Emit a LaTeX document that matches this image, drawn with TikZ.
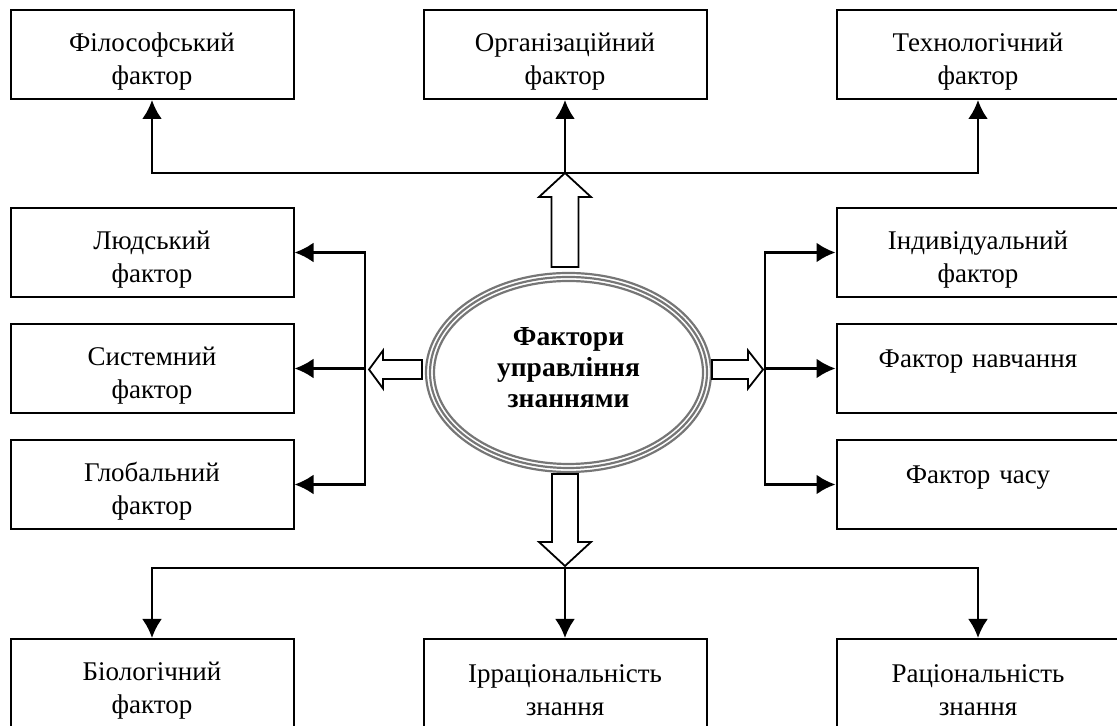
\documentclass[tikz,border=0pt]{standalone}
\usepackage{fontspec}
\setmainfont{Liberation Serif}
\usetikzlibrary{shapes,arrows,arrows.meta,positioning}
\definecolor{ringgray}{RGB}{118,118,118}
\tikzstyle{block} = [rectangle, draw, line width=1pt, text width=136pt,
    align=center, inner xsep=2.75pt, minimum height=44.5pt, text height=16pt,
    font=\fontsize{13.5}{16.5}\selectfont]
\tikzstyle{core} = [ellipse, draw=ringgray, line width=1.1pt, minimum width=142.5pt,
    minimum height=99.5pt, text width=90pt, align=center, text depth=35.5pt,
    font=\bfseries\fontsize{13.75}{15.5}\selectfont]
\tikzstyle{ring} = [draw=ringgray, line width=1.1pt]
\tikzstyle{line} = [draw, line width=1.4pt, -{Latex[length=9.5pt,width=10pt]}]
\tikzstyle{hollow} = [draw, line width=0.9pt, fill=white, line join=miter]

\begin{document}
\begin{tikzpicture}[node distance = 206.5pt, auto]
    \useasboundingbox (0,0) rectangle (558.5pt,363pt);
    % Place nodes
    \node [block] (org) at (282.5pt,335.75pt) {Організаційний\\фактор};
    \node [block, left of=org] (phil) {Філософський\\фактор};
    \node [block, right of=org] (tech) {Технологічний\\фактор};
    \node [block, below of=phil, node distance=99pt] (human) {Людський\\фактор};
    \node [block, below of=human, node distance=58pt] (system) {Системний\\фактор};
    \node [block, below of=system, node distance=58pt] (global) {Глобальний\\фактор};
    \node [block, below of=global, node distance=99.5pt] (bio) {Біологічний\\фактор};
    \node [block, right of=bio] (irrat) {Ірраціональність\\знання};
    \node [block, right of=irrat] (rational) {Раціональність\\знання};
    \node [block, below of=tech, node distance=99pt] (indiv) {Індивідуальний\\фактор};
    \node [block, below of=indiv, node distance=58pt] (learn) {Фактор навчання\\~};
    \node [block, below of=learn, node distance=58pt] (time) {Фактор часу\\~};
    \node [core, below of=org, node distance=159pt, xshift=1.75pt] (core)
        {Фактори\\управління\\знаннями};
    \path [ring] (core.center) ellipse [x radius=69.25pt, y radius=47.75pt];
    \path [ring] (core.center) ellipse [x radius=67.25pt, y radius=45.75pt];
    % Junction points
    \coordinate [below=36.5pt of org] (topj);
    \coordinate [above=35pt of irrat] (botj);
    \coordinate [right=35.25pt of system] (leftj);
    \coordinate [left=35.25pt of learn] (rightj);
    % Draw edges
    \path [line] (topj) -| (phil);
    \path [line] (topj) -- (org);
    \path [line] (topj) -| (tech);
    \path [line] (leftj) |- (human);
    \path [line] (leftj) -- (system);
    \path [line] (leftj) |- (global);
    \path [line] (rightj) |- (indiv);
    \path [line] (rightj) -- (learn);
    \path [line] (rightj) |- (time);
    \path [line] (botj) -| (bio);
    \path [line] (botj) -- (irrat);
    \path [line] (botj) -| (rational);
    % Hollow arrows out of the ellipse
    \draw [hollow, shift={(topj)}, rotate=90] (0,0) -- (-12pt,13pt) -- (-12pt,6.75pt)
        -- (-47pt,6.75pt) -- (-47pt,-6.75pt) -- (-12pt,-6.75pt) -- (-12pt,-13pt) -- cycle;
    \draw [hollow, shift={(botj)}, yshift=1pt, rotate=-90] (0,0) -- (-12pt,13pt) -- (-12pt,6.5pt)
        -- (-46pt,6.5pt) -- (-46pt,-6.5pt) -- (-12pt,-6.5pt) -- (-12pt,-13pt) -- cycle;
    \draw [hollow, shift={(leftj)}, xshift=2pt, yshift=-0.5pt, rotate=180] (0,0) -- (-7pt,9.5pt)
        -- (-7pt,4.75pt) -- (-26.5pt,4.75pt) -- (-26.5pt,-4.75pt) -- (-7pt,-4.75pt) -- (-7pt,-9.5pt) -- cycle;
    \draw [hollow, shift={(rightj)}, xshift=-1pt, yshift=-0.5pt] (0,0) -- (-7.5pt,9.5pt)
        -- (-7.5pt,4.75pt) -- (-25.5pt,4.75pt) -- (-25.5pt,-4.75pt) -- (-7.5pt,-4.75pt) -- (-7.5pt,-9.5pt) -- cycle;
\end{tikzpicture}
\end{document}
